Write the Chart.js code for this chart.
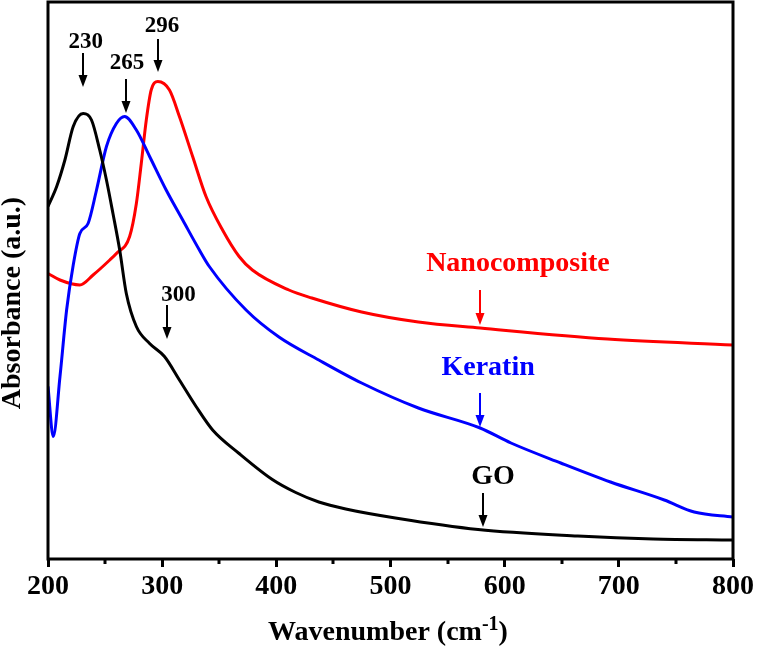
<!DOCTYPE html>
<html>
<head>
<meta charset="utf-8">
<script src="https://cdn.jsdelivr.net/npm/chart.js@4.4.0/dist/chart.umd.min.js"></script>
<style>
  html, body { margin: 0; padding: 0; background: #fff; }
  #wrap { width: 757px; height: 648px; }
</style>
</head>
<body>
<div id="wrap"><canvas id="uvChart"></canvas></div>
<script>
// Spectra (wavenumber, absorbance in a.u.)
const goWave = [200, 207.6, 214.8, 222.1, 230.8, 238.1, 245.3, 251.2, 256.9, 262.8, 268.6, 277.4, 289, 302, 315.1, 329.7, 344.2, 367.4, 396.5, 417, 437.2, 460.8, 504.3, 576.7, 664, 730, 800];
const goAbs  = [0.705, 0.745, 0.798, 0.865, 0.891, 0.878, 0.818, 0.758, 0.691, 0.618, 0.531, 0.465, 0.431, 0.405, 0.358, 0.305, 0.258, 0.211, 0.159, 0.133, 0.114, 0.100, 0.082, 0.059, 0.046, 0.040, 0.038];

const keratinWave = [200, 204.6, 210.5, 216.3, 222.1, 227.9, 235.1, 242.5, 251.2, 259.9, 267.1, 277.4, 289, 303.5, 318, 332.6, 341.3, 373.5, 402.3, 437.2, 474.7, 524.4, 578.5, 605.5, 649.1, 692.7, 739.8, 766, 800];
const keratinAbs  = [0.345, 0.245, 0.365, 0.498, 0.588, 0.651, 0.671, 0.738, 0.825, 0.871, 0.885, 0.858, 0.805, 0.738, 0.678, 0.618, 0.585, 0.498, 0.444, 0.398, 0.352, 0.302, 0.262, 0.232, 0.192, 0.154, 0.118, 0.094, 0.084];

const nanoWave = [200, 210.5, 227.9, 239.5, 254.1, 259.9, 271.5, 277.4, 281.7, 286.1, 290.4, 296.2, 306.4, 315.1, 326.7, 338.4, 352.9, 367.4, 379, 411, 431.1, 474.7, 524.4, 578.5, 690.1, 800];
const nanoAbs  = [0.571, 0.558, 0.548, 0.568, 0.598, 0.611, 0.645, 0.711, 0.791, 0.878, 0.938, 0.955, 0.938, 0.885, 0.805, 0.725, 0.658, 0.605, 0.578, 0.538, 0.522, 0.494, 0.474, 0.462, 0.440, 0.428];

const xTicks = [200, 300, 400, 500, 600, 700, 800];

// Peak labels and curve names with their arrows (data units)
const notes = [
    { text: '230', color: '#000', size: 23, tx: 233.1, ty: 1.034, ax: 230.5, y0: 1.012, y1: 0.944 },
    { text: '265', color: '#000', size: 23, tx: 269.3, ty: 0.991, ax: 268.0, y0: 0.960, y1: 0.892 },
    { text: '296', color: '#000', size: 23, tx: 299.9, ty: 1.066, ax: 296.2, y0: 1.040, y1: 0.974 },
    { text: '300', color: '#000', size: 23, tx: 314.2, ty: 0.528, ax: 303.8, y0: 0.508, y1: 0.440 },
    { text: 'Nanocomposite', color: '#ff0000', size: 28, tx: 611.6, ty: 0.590, ax: 578.5, y0: 0.538, y1: 0.468 },
    { text: 'Keratin', color: '#0000ff', size: 28, tx: 585.5, ty: 0.382, ax: 578.5, y0: 0.332, y1: 0.264 },
    { text: 'GO', color: '#000', size: 28, tx: 589.8, ty: 0.164, ax: 581.0, y0: 0.132, y1: 0.064 }
];

const serif = "'Liberation Serif', 'Times New Roman', serif";

const toPoints = (xs, ys) => xs.map((x, i) => ({ x: x, y: ys[i] }));

const frame = {
    id: 'frame',
    afterDatasetsDraw(chart) {
        const { ctx, chartArea: a, scales: { x, y } } = chart;
        ctx.save();

        // box around the plot
        ctx.strokeStyle = '#000';
        ctx.lineWidth = 3;
        ctx.strokeRect(a.left, a.top, a.right - a.left, a.bottom - a.top);

        // minor ticks every 50
        for (let v = 250; v < 800; v += 100) {
            const px = Math.round(x.getPixelForValue(v));
            ctx.beginPath();
            ctx.moveTo(px, a.bottom);
            ctx.lineTo(px, a.bottom + 5);
            ctx.stroke();
        }

        // annotations
        notes.forEach(n => {
            ctx.fillStyle = n.color;
            ctx.strokeStyle = n.color;
            ctx.font = `bold ${n.size}px ${serif}`;
            ctx.textAlign = 'center';
            ctx.textBaseline = 'middle';
            ctx.fillText(n.text, x.getPixelForValue(n.tx), y.getPixelForValue(n.ty));

            const ax = Math.round(x.getPixelForValue(n.ax));
            const top = y.getPixelForValue(n.y0);
            const tip = y.getPixelForValue(n.y1);
            ctx.lineWidth = 2;
            ctx.beginPath();
            ctx.moveTo(ax, top);
            ctx.lineTo(ax, tip - 10);
            ctx.stroke();
            ctx.beginPath();
            ctx.moveTo(ax - 4.5, tip - 12);
            ctx.lineTo(ax + 4.5, tip - 12);
            ctx.lineTo(ax, tip);
            ctx.closePath();
            ctx.fill();
        });

        // y title
        ctx.fillStyle = '#000';
        ctx.font = `bold 28px ${serif}`;
        ctx.save();
        ctx.translate(13, 303);
        ctx.rotate(-Math.PI / 2);
        ctx.textAlign = 'center';
        ctx.textBaseline = 'middle';
        ctx.fillText('Absorbance (a.u.)', 0, 0);
        ctx.restore();

        // x title with superscript
        const main = 'Wavenumber (cm';
        const sup = '-1';
        const close = ')';
        ctx.font = `bold 28px ${serif}`;
        const wMain = ctx.measureText(main).width;
        const wClose = ctx.measureText(close).width;
        ctx.font = `bold 20px ${serif}`;
        const wSup = ctx.measureText(sup).width;
        let sx = 388 - (wMain + wSup + wClose) / 2;
        ctx.textAlign = 'left';
        ctx.textBaseline = 'alphabetic';
        ctx.font = `bold 28px ${serif}`;
        ctx.fillText(main, sx, 640);
        sx += wMain;
        ctx.font = `bold 20px ${serif}`;
        ctx.fillText(sup, sx, 630);
        sx += wSup;
        ctx.font = `bold 28px ${serif}`;
        ctx.fillText(close, sx, 640);

        ctx.restore();
    }
};

const lineStyle = {
    borderWidth: 3,
    pointRadius: 0,
    fill: false,
    tension: 0.4,
    cubicInterpolationMode: 'monotone'
};

new Chart(document.getElementById('uvChart'), {
    type: 'line',
    data: {
        datasets: [
            Object.assign({ label: 'GO', data: toPoints(goWave, goAbs), borderColor: '#000000' }, lineStyle),
            Object.assign({ label: 'Keratin', data: toPoints(keratinWave, keratinAbs), borderColor: '#0000ff' }, lineStyle),
            Object.assign({ label: 'Nanocomposite', data: toPoints(nanoWave, nanoAbs), borderColor: '#ff0000' }, lineStyle)
        ]
    },
    options: {
        responsive: true,
        maintainAspectRatio: false,
        animation: false,
        devicePixelRatio: 1,
        layout: { padding: { top: 2, right: 21, left: 0, bottom: 0 } },
        plugins: {
            legend: { display: false },
            tooltip: { enabled: false }
        },
        scales: {
            x: {
                type: 'linear',
                min: 200,
                max: 800,
                afterBuildTicks: scale => { scale.ticks = xTicks.map(v => ({ value: v })); },
                afterFit: scale => { scale.height = 89; },
                ticks: {
                    color: '#000',
                    padding: 3,
                    maxRotation: 0,
                    autoSkip: false,
                    font: { family: serif, size: 28, weight: 'bold' }
                },
                grid: {
                    drawOnChartArea: false,
                    drawTicks: true,
                    tickLength: 8,
                    tickWidth: 3,
                    tickColor: '#000'
                },
                border: { display: false }
            },
            y: {
                min: 0,
                max: 1.114,
                afterFit: scale => { scale.width = 48; },
                ticks: { display: false },
                grid: { display: false },
                border: { display: false }
            }
        }
    },
    plugins: [frame]
});
</script>
</body>
</html>
